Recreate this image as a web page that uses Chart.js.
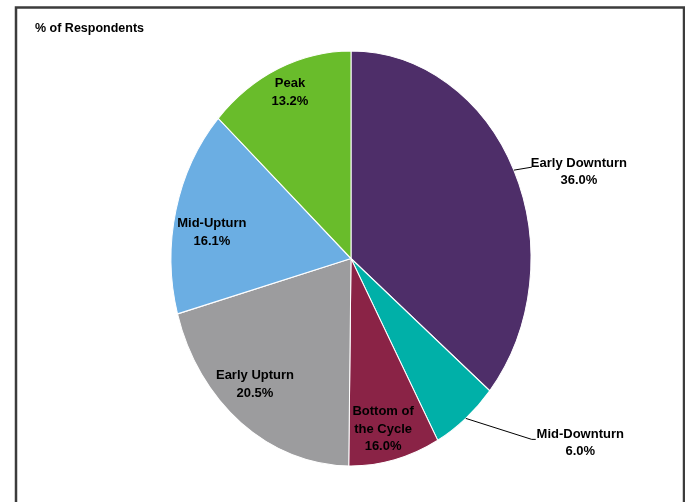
<!DOCTYPE html>
<html>
<head>
<meta charset="utf-8">
<script src="https://cdn.jsdelivr.net/npm/chart.js@4.4.1/dist/chart.umd.min.js"></script>
<style>
  html, body { margin: 0; padding: 0; background: #fff; }
  #wrap { width: 685px; height: 502px; position: relative; }
</style>
</head>
<body>
<div id="wrap"><canvas id="cycleChart" width="685" height="502"></canvas></div>
<script>
// Datos del gráfico
const categories = ['Early Downturn', 'Mid-Downturn', 'Bottom of the Cycle', 'Early Upturn', 'Mid-Upturn', 'Peak'];
// tamaño de cada porción tal como se dibuja en la imagen
const shares = [36.0, 6.0, 8.2, 20.5, 16.1, 13.2];
// porcentajes impresos en las etiquetas
const pctLabels = ['36.0%', '6.0%', '16.0%', '20.5%', '16.1%', '13.2%'];
const nameLines = [['Early Downturn'], ['Mid-Downturn'], ['Bottom of', 'the Cycle'], ['Early Upturn'], ['Mid-Upturn'], ['Peak']];
const sliceColors = ['#4E2E69', '#00B0A8', '#8A2346', '#9C9C9E', '#6BAEE3', '#69BC2B'];
const axisTitle = '% of Respondents';

const yStretch = 207.5 / 180; // the pie is drawn as an ellipse
const FONT = 'bold 13px "Liberation Sans", Arial, sans-serif';
const LINE_H = 17.5;

// where each label sits: inside (radius fraction + angle nudge) or outside with a leader
const labelPlacement = [
    { outside: true, elbow: [18, -3], tail: 0, text: [47, -4] },
    { outside: true, elbow: [66, 21], tail: 4, text: [48.5, -5] },
    { r: 0.841, da: 1.8 },
    { r: 0.808, da: 3.7 },
    { r: 0.783, da: -4.3 },
    { r: 0.869, da: 0.8 }
];

const ellipsePlugin = {
    id: 'ellipse',
    beforeDatasetsDraw(chart) {
        const arc = chart.getDatasetMeta(0).data[0];
        const ctx = chart.ctx;
        ctx.save();
        ctx.translate(arc.x, arc.y);
        ctx.scale(1, yStretch);
        ctx.translate(-arc.x, -arc.y);
    },
    afterDatasetsDraw(chart) {
        chart.ctx.restore();
    }
};

const decorPlugin = {
    id: 'decor',
    afterDraw(chart) {
        const ctx = chart.ctx;
        ctx.save();
        // marco
        ctx.strokeStyle = '#3c3c3c';
        ctx.lineWidth = 2.5;
        ctx.strokeRect(16, 7.5, 668, 600);

        ctx.fillStyle = '#000';
        ctx.font = 'bold 12.5px "Liberation Sans", Arial, sans-serif';
        ctx.textAlign = 'left';
        ctx.textBaseline = 'middle';
        ctx.fillText(axisTitle, 35, 29);

        ctx.font = FONT;
        ctx.textAlign = 'center';
        const meta = chart.getDatasetMeta(0);
        meta.data.forEach((arc, i) => {
            const p = labelPlacement[i];
            const lines = nameLines[i].concat([pctLabels[i]]);
            const R = arc.outerRadius;
            let mid = (arc.startAngle + arc.endAngle) / 2;
            let tx, ty;
            if (p.outside) {
                const ex = arc.x + R * Math.cos(mid);
                const ey = arc.y + R * yStretch * Math.sin(mid);
                const bx = ex + p.elbow[0], by = ey + p.elbow[1];
                ctx.strokeStyle = '#000';
                ctx.lineWidth = 1;
                ctx.beginPath();
                ctx.moveTo(ex, ey);
                ctx.lineTo(bx, by);
                if (p.tail) ctx.lineTo(bx + p.tail, by);
                ctx.stroke();
                tx = bx + p.text[0];
                ty = by + p.text[1];
            } else {
                mid += p.da * Math.PI / 180;
                tx = arc.x + p.r * R * Math.cos(mid);
                ty = arc.y + p.r * R * yStretch * Math.sin(mid) - (lines.length - 1) * LINE_H / 2;
            }
            lines.forEach((t, k) => ctx.fillText(t, tx, ty + k * LINE_H));
        });
        ctx.restore();
    }
};

const cycleChart = new Chart(document.getElementById('cycleChart').getContext('2d'), {
    type: 'pie',
    data: {
        labels: categories,
        datasets: [{
            data: shares,
            backgroundColor: sliceColors,
            borderColor: '#ffffff',
            borderWidth: 1
        }]
    },
    options: {
        responsive: false,
        animation: false,
        events: [],
        radius: 180,
        layout: { padding: { left: 17, right: 0, top: 15, bottom: 0 } },
        plugins: {
            legend: { display: false },
            tooltip: { enabled: false }
        }
    },
    plugins: [ellipsePlugin, decorPlugin]
});
</script>
</body>
</html>
